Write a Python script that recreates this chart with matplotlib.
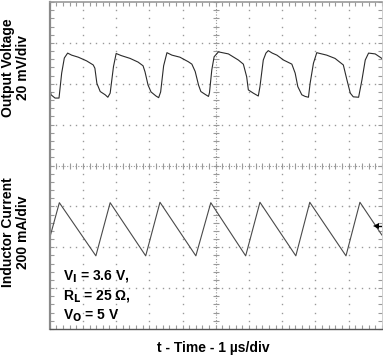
import matplotlib
matplotlib.use("Agg")
import matplotlib.pyplot as plt
import numpy as np

plt.rcParams['font.family'] = ['Liberation Sans', 'DejaVu Sans']
narrow = ['Liberation Sans Narrow', 'Liberation Sans', 'DejaVu Sans']

# time in us (1 us/div), traces in screen divisions
t_vout = [0.00, 0.04, 0.16, 0.28, 0.36, 0.44, 0.54, 0.66, 0.86, 1.11, 1.31, 1.36, 1.42, 1.52,
          1.67, 1.75, 1.82, 1.92, 2.00, 2.15, 2.42, 2.66, 2.81, 2.87, 2.96, 3.05, 3.20, 3.28,
          3.34, 3.43, 3.53, 3.68, 3.92, 4.17, 4.28, 4.38, 4.48, 4.55, 4.68, 4.78, 4.81, 4.88,
          4.95, 5.08, 5.38, 5.68, 5.83, 5.93, 5.98, 6.13, 6.28, 6.33, 6.43, 6.51, 6.58, 6.70,
          6.84, 7.04, 7.29, 7.39, 7.47, 7.59, 7.69, 7.79, 7.84, 7.94, 8.04, 8.34, 8.59, 8.84,
          8.95, 9.05, 9.14, 9.30, 9.40, 9.50, 9.60, 9.80, 10.00]
vout = [1.90, 1.73, 1.65, 1.65, 2.26, 2.63, 2.75, 2.70, 2.65, 2.56, 2.46, 2.38, 2.01, 1.81,
        1.73, 1.67, 1.77, 2.42, 2.74, 2.69, 2.62, 2.53, 2.44, 2.29, 1.97, 1.80, 1.70, 1.66,
        1.80, 2.44, 2.76, 2.70, 2.65, 2.54, 2.48, 2.30, 1.97, 1.81, 1.74, 1.69, 1.78, 2.34,
        2.66, 2.78, 2.73, 2.58, 2.48, 2.17, 1.85, 1.77, 1.70, 1.93, 2.58, 2.75, 2.81, 2.75,
        2.70, 2.58, 2.48, 2.26, 1.93, 1.73, 1.69, 1.67, 2.01, 2.50, 2.76, 2.70, 2.62, 2.46,
        2.09, 1.77, 1.68, 1.67, 2.09, 2.58, 2.75, 2.73, 2.62]

t_il = [0.00, 0.29, 1.39, 1.82, 2.89, 3.32, 4.40, 4.85, 5.90, 6.33, 7.41, 7.83, 8.92, 9.34, 10.00]
il = [-1.77, -0.91, -2.21, -0.91, -2.21, -0.90, -2.21, -0.91, -2.21, -0.90, -2.21, -0.90,
      -2.21, -0.90, -1.70]

fig = plt.figure(figsize=(3.83, 3.57), dpi=100)
ax = fig.add_axes([0.1298, 0.0784, 0.8672, 0.916])
ax.set_xlim(0, 10)
ax.set_ylim(-4, 4)

grid_c = '#9a9a9a'
# dotted graticule
ys = np.arange(-4, 4.001, 0.2)
xs = np.arange(0, 10.001, 0.2)
for gx in range(1, 10):
    if gx == 5:
        continue
    ax.plot([gx] * len(ys), ys, ls='none', marker='s', ms=1.0, mew=0, color=grid_c)
for gy in range(-3, 4):
    if gy == 0:
        continue
    ax.plot(xs, [gy] * len(xs), ls='none', marker='s', ms=1.0, mew=0, color=grid_c)
# centre axes with small ticks
ax.plot(xs, [0] * len(xs), ls='none', marker='|', ms=4, mew=0.8, color=grid_c)
ax.plot(xs, [0] * len(xs), ls=(0, (1, 1.5)), lw=0.8, color=grid_c)
ax.plot([5] * len(ys), ys, ls='none', marker='_', ms=4, mew=0.8, color=grid_c)
ax.plot([5] * len(ys), ys, ls=(0, (1, 1.5)), lw=0.8, color=grid_c)

# traces
ax.plot(t_vout, vout, color='#2b2b2b', lw=0.8)
ax.plot(t_il, il, color='#4a4a4a', lw=0.8)

# channel reference marker
ax.plot([9.82], [-1.48], marker='<', ms=5, color='black', mew=0)
ax.plot([9.82, 9.98], [-1.48, -1.48], color='black', lw=1.0)

ax.set_xticks([])
ax.set_yticks([])
ax.set_xticks(xs, minor=True)
ax.set_yticks(ys, minor=True)
ax.tick_params(which='minor', direction='in', length=3, width=0.8, color=grid_c,
               top=True, bottom=True, left=True, right=True,
               labelbottom=False, labelleft=False)
ax.spines['left'].set_color('#8a8a8a')
ax.spines['left'].set_linewidth(1.6)
ax.spines['top'].set_color('#9a9a9a')
ax.spines['top'].set_linewidth(1.2)
ax.spines['bottom'].set_color('#555555')
ax.spines['bottom'].set_linewidth(1.0)
ax.spines['right'].set_color('#c8c8c8')
ax.spines['right'].set_linewidth(0.6)

fig.text(0.040, 0.811, 'Output Voltage\n20 mV/div', rotation=90, ha='center', va='center',
         fontsize=10, fontweight='bold', linespacing=1.1, family=narrow)
fig.text(0.040, 0.35, 'Inductor Current\n200 mA/div', rotation=90, ha='center', va='center',
         fontsize=10, fontweight='bold', linespacing=1.1)

ax.text(0.4, -3.19, 'V$_\\mathbf{I}$ = 3.6 V,\nR$_\\mathbf{L}$ = 25 Ω,\nV$_\\mathbf{O}$ = 5 V',
        fontsize=10, fontweight='bold', va='center', ha='left', linespacing=1.3,
        family=narrow)

fig.text(0.557, 0.025, 't - Time - 1 µs/div', ha='center', va='center',
         fontsize=10, fontweight='bold')

fig.savefig('out.png', dpi=100)
